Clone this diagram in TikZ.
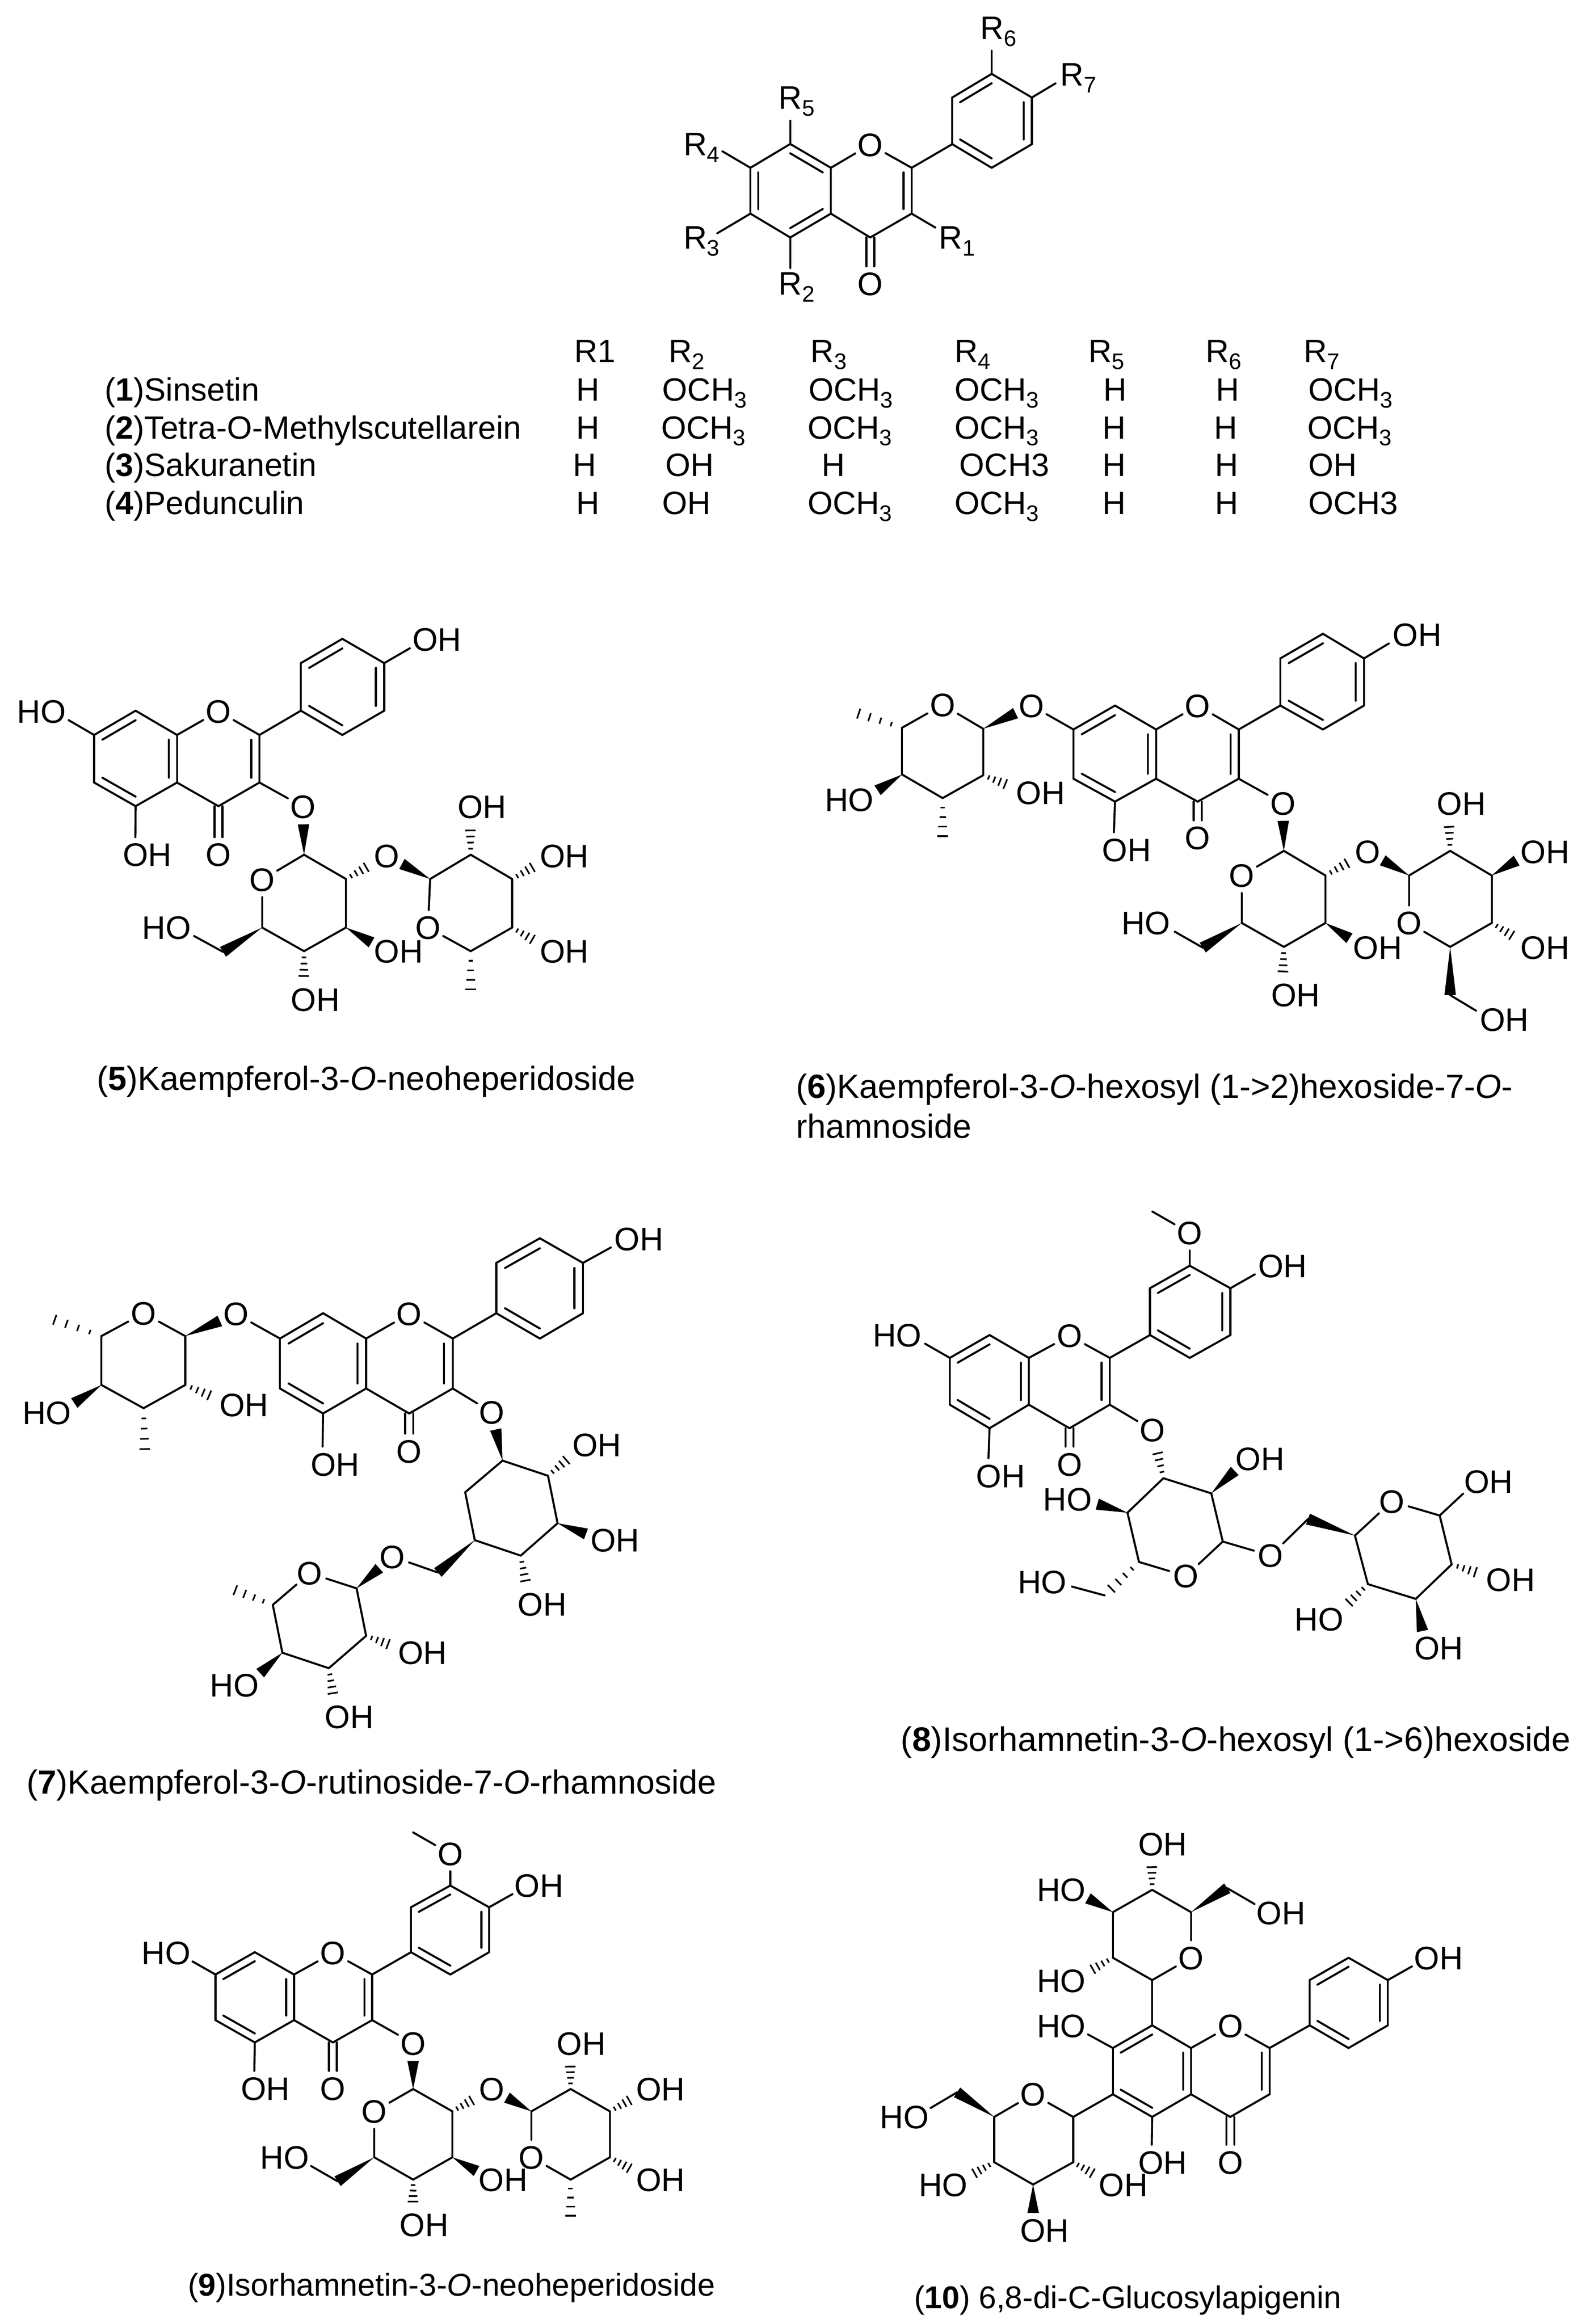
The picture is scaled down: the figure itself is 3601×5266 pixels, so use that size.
\documentclass[tikz,border=0pt]{standalone}
\usepackage{fontspec}
\setmainfont{Liberation Sans}
\usetikzlibrary{calc}
\tikzset{
  bond/.style={line width=1.3pt,line cap=round,line join=round,black},
  hashline/.style={line width=1.05pt,black},
  atom/.style={inner sep=0pt,text height=15pt,text depth=0pt,font=\fontsize{21}{25}\selectfont},
  oatom/.style={circle,inner sep=0pt,minimum size=.78cm,text height=15pt,text depth=0pt,font=\fontsize{21}{25}\selectfont},
  oring/.style={circle,inner sep=0pt,minimum size=.78cm},
  capt/.style={anchor=west,inner sep=0pt,text height=15.5pt,text depth=0pt,font=\fontsize{21.6}{26}\selectfont},
  capb/.style={anchor=west,inner sep=0pt,text height=15pt,text depth=0pt,font=\fontsize{20.3}{25}\selectfont},
  cell/.style={anchor=west,inner sep=0pt,text height=15pt,text depth=0pt,font=\fontsize{20.8}{25}\selectfont}
}
\newcommand\sbs[1]{\raisebox{-4.4pt}{\fontsize{14.5}{15}\selectfont #1}}
\newcommand\Och{OCH\sbs{3}}
\newcommand\Pts[1]{\foreach \pn/\px/\py in {#1}{\coordinate (\pn) at (\px,\py);}}
\newcommand\Os[1]{\foreach \pn/\px/\py in {#1}{\node[oatom] (\pn) at (\px,\py) {O};}}
\newcommand\OHs[1]{\foreach \pn/\px/\py in {#1}{\node[atom] (\pn-t) at (\px,\py) {OH};\node[oring] (\pn) at ([xshift=-.266cm]\pn-t.center) {};}}
\newcommand\HOs[1]{\foreach \pn/\px/\py in {#1}{\node[atom] (\pn-t) at (\px,\py) {HO};\node[oring] (\pn) at ([xshift=.266cm]\pn-t.center) {};}}
\newcommand\Rs[1]{\foreach \pn/\px/\py/\pd in {#1}{\node[atom] (\pn) at (\px,\py) {R\sbs{\pd}};}}
\newcommand\Bonds[1]{\foreach \pa/\pb in {#1}{\draw[bond] (\pa) -- (\pb);}}
\newcommand\Inner[1]{\foreach \pa/\pb/\pc in {#1}{\draw[bond] ($(\pa)!.2!(\pc)$) -- ($(\pb)!.2!(\pc)$);}}
\newcommand\Wedges[1]{\foreach \pa/\pb in {#1}{\path (\pa) -- (\pb) coordinate[pos=1] (tip);
  \fill[black] ($(tip)!.13cm!90:(\pa)$) -- (\pa) -- ($(tip)!.13cm!-90:(\pa)$) -- cycle;}}
\newcommand\Hashes[1]{\foreach \pa/\pb in {#1}{\path (\pa) -- (\pb) coordinate[pos=1] (tip);
  \foreach \pi in {1,...,5}{\pgfmathsetmacro\pt{\pi/5}\pgfmathsetmacro\pl{.03+.11*\pi/5}
  \draw[hashline] ($(\pa)!\pt!(tip)!\pl cm!90:(tip)$) -- ($(\pa)!\pt!(tip)!\pl cm!-90:(tip)$);}}}
\newcommand\Flav[1]{%
  \coordinate (ca) at ($(c8)!.5!(c5)$);\coordinate (cp) at ($(c2)!.5!(c4a)$);\coordinate (cb) at ($(c3p)!.5!(c6p)$);
  \Bonds{c8/c8a,c8a/c4a,c4a/c5,c5/c6,c6/c7,c7/c8,c8a/o1,o1/c2,c2/c3,c3/c4,c4/c4a,c2/c1p,c1p/c2p,c2p/c3p,c3p/c4p,c4p/c5p,c5p/c6p,c6p/c1p}
  \Inner{#1,c2/c3/cp,c1p/c6p/cb,c2p/c3p/cb,c4p/c5p/cb}
  \draw[bond] ([xshift=-.09cm]c4) -- ([xshift=-.09cm]o4.north);
  \draw[bond] ([xshift=.09cm]c4) -- ([xshift=.09cm]o4.north);}
\newcommand\StdFlav{\Flav{c7/c8/ca,c8a/c4a/ca,c5/c6/ca}}
\begin{document}
\begin{tikzpicture}[x=.01cm,y=-.01cm]
\useasboundingbox (0,0) rectangle (3601,5266);
\fill[white] (0,0) rectangle (3601,5266);
% ---------- general structure
\begin{scope}[name prefix=m0-]
\begin{scope}[shift={(1400,0)},xscale=.8929,yscale=.4783]
\Pts{c8/437/682,c8a/540/795,c4a/540/1012,c5/437/1125,c6/336/1012,c7/336/795,c2/745/795,c3/745/1012,c4/640/1125,
c1p/848/683,c2p/848/462,c3p/948/350,c4p/1050/462,c5p/1050/683,c6p/948/795,
e6/948/240,e7/1110/395,e5/437/572,e4/265/717,e3/252/1105,e2/437/1270,e1/805/1078}
\Os{o1/640/685,o4/640/1345}
\Rs{r6/965/132/6,r7/1168/352/7,r5/453/462/5,r4/212/682/4,r3/212/1125/3,r2/453/1342/2,r1/860/1125/1}
\end{scope}
\Flav{c8/c8a/ca,c6/c7/ca,c5/c4a/ca}
\Bonds{c3p/e6,c4p/e7,c8/e5,c7/e4,c6/e3,c5/e2,c3/e1}
\end{scope}
% ---------- table
\foreach \pn/\px/\py/\pt in {
h1/1300/795/R1,h2/1514/795/R\sbs{2},h3/1836/795/R\sbs{3},h4/2162/795/R\sbs{4},h5/2465/795/R\sbs{5},h6/2731/795/R\sbs{6},h7/2953/795/R\sbs{7},
a0/237/882/(\textbf{1})Sinsetin,a1/1305/882/H,a2/1500/882/\Och,a3/1831/882/\Och,a4/2162/882/\Och,a5/2499/882/H,a6/2754/882/H,a7/2963/882/\Och,
b0/237/968/(\textbf{2})Tetra-O-Methylscutellarein,b1/1305/968/H,b2/1497/968/\Och,b3/1829/968/\Och,b4/2162/968/\Och,b5/2497/968/H,b6/2750/968/H,b7/2961/968/\Och,
d0/237/1053/(\textbf{3})Sakuranetin,d1/1297/1053/H,d2/1507/1053/OH,d3/1861/1053/H,d4/2173/1053/OCH3,d5/2497/1053/H,d6/2752/1053/H,d7/2963/1053/OH,
f0/237/1139/(\textbf{4})Pedunculin,f1/1305/1139/H,f2/1500/1139/OH,f3/1829/1139/\Och,f4/2162/1139/\Och,f5/2497/1139/H,f6/2752/1139/H,f7/2963/1139/OCH3}
{\node[cell] (\pn) at (\px,\py) {\pt};}
% ---------- 5
\begin{scope}[name prefix=m5-]
\begin{scope}[shift={(0,1350)},xscale=1.0204,yscale=.7334]
\Pts{c8/301/355,c8a/393/430,c4a/393/577,c5/301/650,c6/209/577,c7/209/430,c2/576/430,c3/576/577,c4/485/650,
c1p/668/355,c2p/668/208,c3p/760/133,c4p/853/208,c5p/853/355,c6p/760/430,
s1/675/800,s2/768/875,s3/768/1025,s4/675/1098,s5/582/1025,s6/495/1100,
t1/955/875,t2/1045/800,t3/1137/875,t4/1137/1025,t5/1045/1098,me/1045/1245}
\Os{o1/485/357,o4/485/800,o3/673/652,os/582/877,ol/858/803,ot/950/1025}
\OHs{h4p/970/135,h5/327/800,h3s/885/1098,h4s/700/1248,h2t/1070/652,h3t/1253/803,h4t/1253/1098}
\HOs{h7/92/357,h6s/370/1025}
\end{scope}
\StdFlav
\Bonds{c4p/h4p,c7/h7,c5/h5,c3/o3,s1/s2,s2/s3,s3/s4,s4/s5,s1/os,os/s5,s6/h6s,t1/t2,t2/t3,t3/t4,t4/t5,t1/ot,ot/t5}
\Wedges{s1/o3,s5/s6,s3/h3s,t1/ol}
\Hashes{s4/h4s,s2/ol,t2/h2t,t3/h3t,t4/h4t,t5/me}
\end{scope}
\node[capt] (cap5) at (219,2443) {(\textbf{5})Kaempferol-3-\textit{O}-neoheperidoside};
% ---------- 6
\begin{scope}[name prefix=m6-]
\begin{scope}[shift={(1800,1350)},xscale=1.1486,yscale=.7972]
\Pts{c8/632/312,c8a/713/380,c4a/713/520,c5/632/585,c6/550/520,c7/550/380,c2/876/380,c3/876/520,c4/795/585,
c1p/958/312,c2p/958/178,c3p/1042/108,c4p/1123/178,c5p/1123/312,c6p/1042/380,
s1/965/725,s2/1047/795,s3/1047/930,s4/965/998,s5/882/930,s6/805/1000,
t1/1212/795,t2/1293/725,t3/1375/795,t4/1375/930,t5/1293/998,t6/1293/1135,
r1/372/378,r2/372/510,r3/292/575,r4/212/508,r5/212/375,m1/105/325,m2/292/710}
\Os{o1/795/312,o4/795/688,o3/963/590,os/882/795,ol/1130/727,ot/1212/930,ol2/467/312,or/292/310}
\OHs{h4p/1228/110,h5/655/722,h3s/1150/1000,h4s/988/1135,h2t/1315/590,h3t/1480/727,h4t/1480/1000,h6t/1400/1205,h2r/485/560}
\HOs{h6s/693/930,h4r/108/580}
\end{scope}
\StdFlav
\Bonds{c4p/h4p,c5/h5,c3/o3,s1/s2,s2/s3,s3/s4,s4/s5,s1/os,os/s5,s6/h6s,t1/t2,t2/t3,t3/t4,t4/t5,t1/ot,ot/t5,t6/h6t,c7/ol2,r1/or,or/r5,r5/r4,r4/r3,r3/r2,r2/r1}
\Wedges{s1/o3,s5/s6,s3/h3s,t1/ol,t3/h3t,t5/t6,r1/ol2,r4/h4r}
\Hashes{s4/h4s,s2/ol,t2/h2t,t4/h4t,r5/m1,r3/m2,r2/h2r}
\end{scope}
\node[capt] (cap6a) at (1803,2461) {(\textbf{6})Kaempferol-3-\textit{O}-hexosyl (1->2)hexoside-7-\textit{O}-};
\node[capt] (cap6b) at (1803,2551) {rhamnoside};
% ---------- 7
\begin{scope}[name prefix=m7-]
\begin{scope}[shift={(0,2750)},xscale=1.0842,yscale=.7972]
\Pts{c8/675/283,c8a/765/355,c4a/765/497,c5/675/568,c6/585/497,c7/585/355,c2/946/355,c3/946/497,c4/855/568,
c1p/1037/283,c2p/1037/140,c3p/1128/70,c4p/1218/140,c5p/1218/283,c6p/1128/355,
q1/1050/702,q2/1145/745,q3/1165/880,q4/1088/972,q5/992/928,q6/972/792,q7/915/1020,
n1/745/1065,n2/765/1200,n3/687/1292,n4/590/1248,n5/570/1112,nm/472/1060,
r1/387/348,r2/387/487,r3/300/553,r4/212/487,r5/212/348,m1/90/290,m2/303/698}
\Os{o1/855/285,o4/855/675,o3/1028/565,ol/820/975,on/647/1022,ol2/493/285,or/300/283}
\OHs{h4p/1335/72,h5/700/712,h2q/1247/657,h3q/1285/928,h4q/1133/1110,h2n/883/1247,h3n/730/1430,h2r/510/543}
\HOs{h4n/490/1340,h4r/98/566}
\end{scope}
\StdFlav
\Bonds{c4p/h4p,c5/h5,c3/o3,q1/q2,q2/q3,q3/q4,q4/q5,q5/q6,q6/q1,q7/ol,n1/on,on/n5,n5/n4,n4/n3,n3/n2,n2/n1,c7/ol2,r1/or,or/r5,r5/r4,r4/r3,r3/r2,r2/r1}
\Wedges{q1/o3,q3/h3q,q5/q7,n1/ol,n4/h4n,r1/ol2,r4/h4r}
\Hashes{q2/h2q,q4/h4q,n5/nm,n2/h2n,n3/h3n,r5/m1,r3/m2,r2/h2r}
\end{scope}
\node[capt] (cap7) at (60,4038) {(\textbf{7})Kaempferol-3-\textit{O}-rutinoside-7-\textit{O}-rhamnoside};
% ---------- 8
\begin{scope}[name prefix=m8-]
\begin{scope}[shift={(1900,2750)},xscale=1.0848,yscale=.7972]
\Pts{c8/315/345,c8a/397/410,c4a/397/543,c5/315/610,c6/232/543,c7/232/410,c2/566/410,c3/566/543,c4/482/610,
c1p/650/345,c2p/650/212,c3p/733/148,c4p/818/212,c5p/818/345,c6p/733/410,me/655/-6,
a/678/752,b/778/795,cc/802/932,e/627/990,f/603/850,e2/555/1085,
g/1078/915,g2/980/868,h/1255/858,i/1280/997,j/1205/1095,k/1105/1053}
\Os{o1/482/347,o4/482/712,o3/655/615,om/733/55,od/725/1030,ol/902/972,og/1155/818}
\OHs{h4p/927/148,h5/338/745,hb/880/697,hh/1357/762,hi/1403/1040,hj/1253/1235}
\HOs{h7/122/345,hf/478/812,he/425/1047,hk/1003/1153}
\end{scope}
\StdFlav
\Bonds{me/om,om/c3p,c4p/h4p,c7/h7,c5/h5,c3/o3,a/b,b/cc,cc/od,od/e,e/f,f/a,e2/he,cc/ol,ol/g2,g/og,og/h,h/i,i/j,j/k,k/g,h/hh}
\Wedges{b/hb,f/hf,g/g2,j/hj}
\Hashes{a/o3,e/e2,i/hi,k/hk}
\end{scope}
\node[capt,font=\fontsize{21.9}{26}\selectfont] (cap8) at (2040,3941) {(\textbf{8})Isorhamnetin-3-\textit{O}-hexosyl (1->6)hexoside};
% ---------- 9
\begin{scope}[name prefix=m9-]
\begin{scope}[shift={(250,4100)},xscale=.9566,yscale=.7436]
\Pts{c8/342/435,c8a/435/503,c4a/435/642,c5/342/710,c6/249/642,c7/249/503,c2/620/503,c3/620/642,c4/527/710,
c1p/712/435,c2p/712/298,c3p/805/232,c4p/897/298,c5p/897/435,c6p/805/503,me/717/70,
s1/717/852,s2/810/920,s3/810/1060,s4/717/1128,s5/625/1060,s6/538/1133,
t1/997/920,t2/1090/852,t3/1183/920,t4/1183/1060,t5/1090/1128,tm/1090/1265}
\Os{o1/527/437,o4/527/850,o3/717/713,om/805/135,os/625/920,ol/903/852,ot/997/1060}
\OHs{h4p/1015/232,h5/367/850,h3s/930/1128,h4s/743/1265,h2t/1115/713,h3t/1303/852,h4t/1303/1128}
\HOs{h7/132/437,h6s/413/1060}
\end{scope}
\StdFlav
\Bonds{me/om,om/c3p,c4p/h4p,c7/h7,c5/h5,c3/o3,s1/s2,s2/s3,s3/s4,s4/s5,s1/os,os/s5,s6/h6s,t1/t2,t2/t3,t3/t4,t4/t5,t1/ot,ot/t5}
\Wedges{s1/o3,s5/s6,s3/h3s,t1/ol}
\Hashes{s4/h4s,s2/ol,t2/h2t,t3/h3t,t4/h4t,t5/tm}
\end{scope}
\node[capb] (cap9) at (425,5176) {(\textbf{9})Isorhamnetin-3-\textit{O}-neoheperidoside};
% ---------- 10
\begin{scope}[name prefix=mx-]
\begin{scope}[shift={(1950,4100)},xscale=.9566,yscale=.7436]
\Pts{c8/690/658,c8a/782/727,c4a/782/868,c5/690/937,c6/597/868,c7/597/727,c2/968/727,c3/968/868,c4/875/937,
c1p/1063/658,c2p/1063/520,c3p/1155/452,c4p/1248/520,c5p/1248/658,c6p/1155/727,
a/690/520,b/782/313,cc/690/245,d/597/313,e/597/452,b2/868/240,
f/503/937,g/316/937,h/316/1075,i/408/1143,j/503/1075,g2/228/862}
\Os{o1/875/660,o4/875/1075,oa/782/452,of/408/868}
\OHs{h4p/1368/452,h5/715/1075,hb/995/315,hc/715/105,hj/622/1143,hi/435/1283}
\HOs{h7/475/660,hd/475/245,he/475/522,hg/103/937,hh/195/1143}
\end{scope}
\StdFlav
\Bonds{c4p/h4p,c7/h7,c5/h5,a/c8,a/oa,oa/b,b/cc,cc/d,d/e,e/a,b2/hb,f/c6,f/of,of/g,g/h,h/i,i/j,j/f,g2/hg}
\Wedges{b/b2,d/hd,g/g2,i/hi}
\Hashes{cc/hc,e/he,h/hh,j/hj}
\end{scope}
\node[capb] (capx) at (2070,5204) {(\textbf{10}) 6,8-di-C-Glucosylapigenin};
\end{tikzpicture}
\end{document}
